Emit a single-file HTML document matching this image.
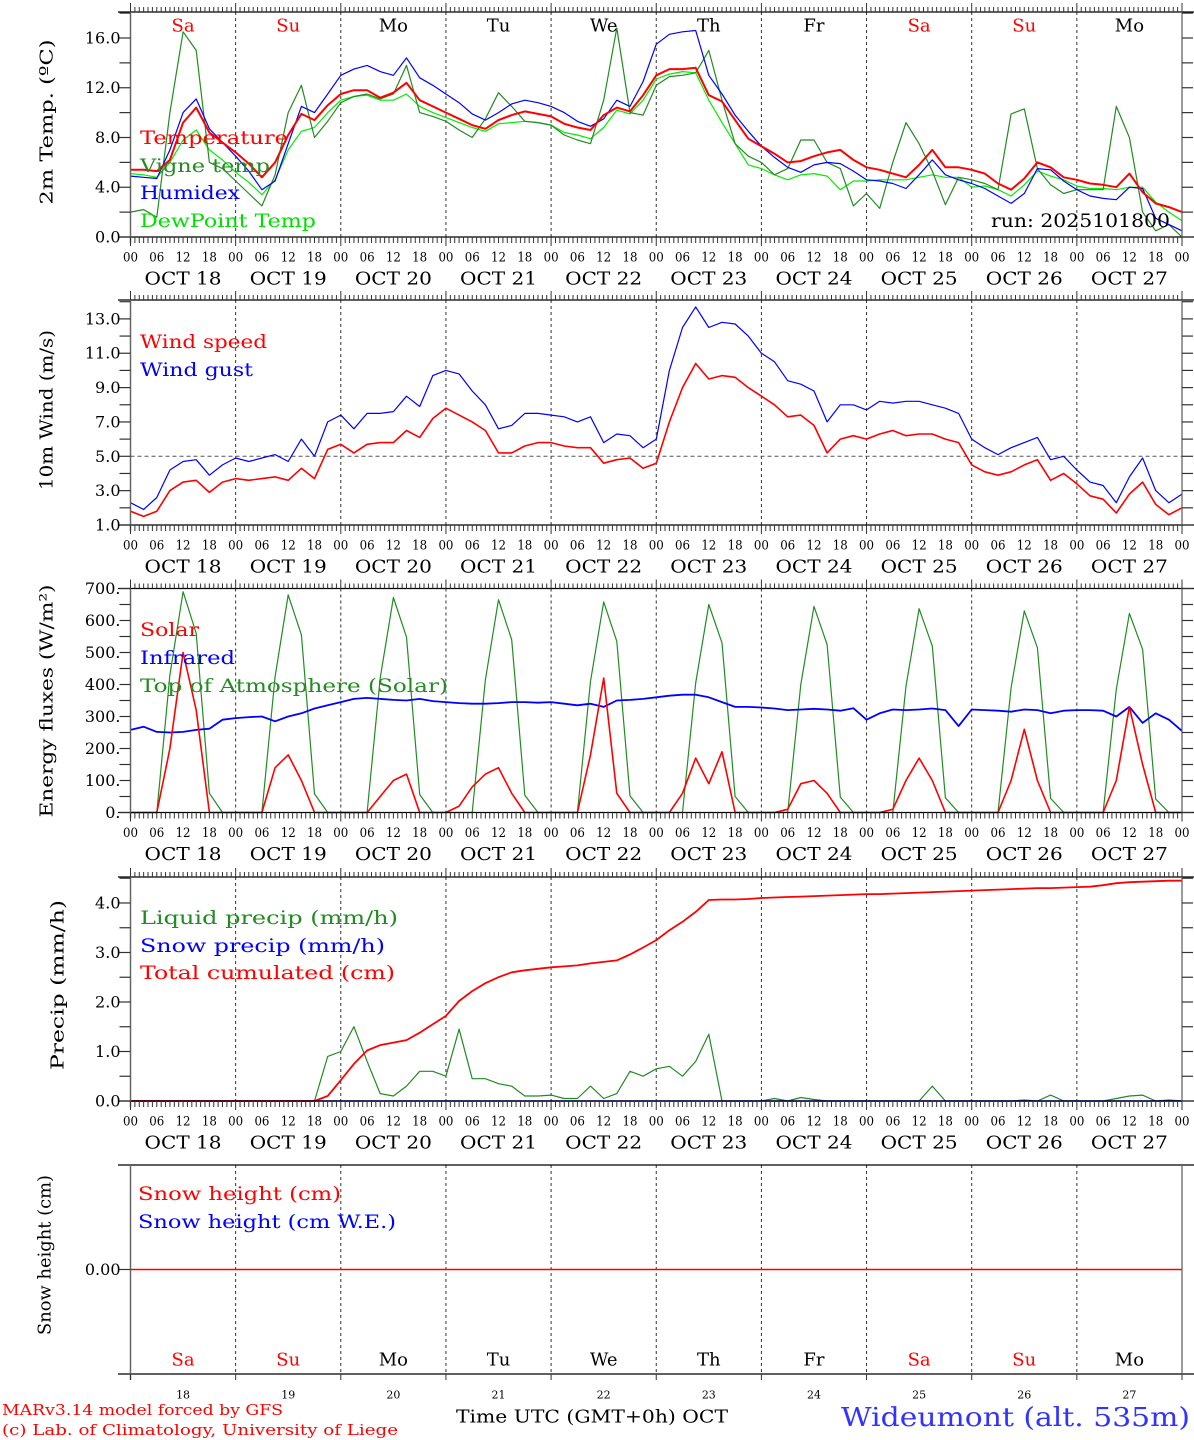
<!DOCTYPE html>
<html><head><meta charset="utf-8"><style>
html,body{margin:0;padding:0;background:#fff;}
svg{display:block;font-family:"DejaVu Serif","Liberation Serif",serif;}
</style></head><body>
<svg id="chart" width="1194" height="1440" viewBox="0 0 1194 1440" xmlns="http://www.w3.org/2000/svg">
<rect x="0" y="0" width="1194" height="1440" fill="#fff"/>
<g id="grid"></g>
<g id="marks"></g>
<g id="axes"></g>
<g font-size="19" dominant-baseline="central">
<text x="140" y="138" fill="#ff0000" textLength="148" lengthAdjust="spacingAndGlyphs">Temperature</text>
<text x="140" y="166" fill="#228b22" textLength="130" lengthAdjust="spacingAndGlyphs">Vigne temp</text>
<text x="140" y="193" fill="#0000ff" textLength="100" lengthAdjust="spacingAndGlyphs">Humidex</text>
<text x="140" y="221" fill="#00e000" textLength="176" lengthAdjust="spacingAndGlyphs">DewPoint Temp</text>
<text x="991" y="221" fill="#000" textLength="179" lengthAdjust="spacingAndGlyphs">run: 2025101800</text>
<text x="140" y="342" fill="#ff0000" textLength="127" lengthAdjust="spacingAndGlyphs">Wind speed</text>
<text x="140" y="370" fill="#0000ff" textLength="113" lengthAdjust="spacingAndGlyphs">Wind gust</text>
<text x="140" y="630" fill="#ff0000" textLength="59" lengthAdjust="spacingAndGlyphs">Solar</text>
<text x="140" y="658" fill="#0000ff" textLength="95" lengthAdjust="spacingAndGlyphs">Infrared</text>
<text x="140" y="686" fill="#228b22" textLength="308" lengthAdjust="spacingAndGlyphs">Top of Atmosphere (Solar)</text>
<text x="140" y="918" fill="#228b22" textLength="258" lengthAdjust="spacingAndGlyphs">Liquid precip (mm/h)</text>
<text x="140" y="946" fill="#0000ff" textLength="245" lengthAdjust="spacingAndGlyphs">Snow precip (mm/h)</text>
<text x="140" y="973" fill="#ff0000" textLength="255" lengthAdjust="spacingAndGlyphs">Total cumulated (cm)</text>
<text x="138" y="1194" fill="#ff0000" textLength="203" lengthAdjust="spacingAndGlyphs">Snow height (cm)</text>
<text x="138" y="1222" fill="#0000ff" textLength="258" lengthAdjust="spacingAndGlyphs">Snow height (cm W.E.)</text>
</g>
<g font-size="18" dominant-baseline="central" text-anchor="middle" fill="#000">
<text transform="translate(47,122) rotate(-90)" textLength="165" lengthAdjust="spacingAndGlyphs">2m Temp. (ºC)</text>
<text transform="translate(47,410) rotate(-90)" textLength="160" lengthAdjust="spacingAndGlyphs">10m Wind (m/s)</text>
<text transform="translate(47,701) rotate(-90)" textLength="233" lengthAdjust="spacingAndGlyphs">Energy fluxes (W/m²)</text>
<text transform="translate(58,985) rotate(-90)" textLength="170" lengthAdjust="spacingAndGlyphs">Precip (mm/h)</text>
<text transform="translate(45,1255) rotate(-90)" textLength="160" lengthAdjust="spacingAndGlyphs">Snow height (cm)</text>
</g>
<text x="2" y="1410" font-size="15" fill="#ff0000" dominant-baseline="central" textLength="281" lengthAdjust="spacingAndGlyphs">MARv3.14 model forced by GFS</text>
<text x="2" y="1430" font-size="15" fill="#ff0000" dominant-baseline="central" textLength="396" lengthAdjust="spacingAndGlyphs">(c) Lab. of Climatology, University of Liege</text>
<text x="456" y="1417" font-size="18" fill="#000" dominant-baseline="central" textLength="272" lengthAdjust="spacingAndGlyphs">Time UTC (GMT+0h) OCT</text>
<text x="841" y="1418" font-size="26" fill="#3333ff" dominant-baseline="central" textLength="349" lengthAdjust="spacingAndGlyphs">Wideumont (alt. 535m)</text>
</svg>
<script>
// ---- data (3-hourly, hours 0..240 from OCT 18 00 UTC) ----
const hours = Array.from({length:81},(_,i)=>i*3);
const dayNames = ["Sa","Su","Mo","Tu","We","Th","Fr","Sa","Su","Mo"];
const dayNums = ["18","19","20","21","22","23","24","25","26","27"];
const hourTicks = ["00","06","12","18"];
const tempTicks = [0,4,8,12,16];
const windTicks = [1,3,5,7,9,11,13];
const energyTicks = [0,100,200,300,400,500,600,700];
const precipTicks = [0,1,2,3,4];
const temperature = [5.4,5.4,5.3,6.2,9.2,10.4,8.4,7.6, 6.8,5.9,4.8,6.0,8.2,9.9,9.4,10.6, 11.5,11.8,11.8,11.2,11.6,12.4,11.0,10.5, 10.0,9.5,9.0,8.7,9.4,9.8,10.1,9.9, 9.7,9.1,8.8,8.6,9.8,10.4,10.1,11.4, 13.0,13.5,13.5,13.6,11.4,10.9,9.4,7.9, 7.3,6.7,6.0,6.1,6.5,6.8,7.0,6.2, 5.6,5.4,5.1,4.8,5.8,7.0,5.6,5.6, 5.4,5.1,4.3,3.8,4.7,6.0,5.6,4.8, 4.6,4.3,4.2,4.0,5.1,3.6,2.7,2.4, 2.0];
const vigne = [2.0,2.2,1.6,10.0,16.5,15.0,6.0,5.5, 4.5,3.5,2.5,5.0,10.0,12.2,8.0,9.3, 10.8,11.3,11.5,11.1,11.5,13.8,10.0,9.7, 9.3,8.6,8.0,9.5,11.6,10.5,9.3,9.2, 9.0,8.2,7.8,7.5,11.0,16.8,10.0,9.8, 12.2,12.9,13.0,13.2,15.0,11.0,7.5,6.5, 6.0,5.0,5.5,7.8,7.8,6.0,5.5,2.5, 3.5,2.3,6.0,9.2,7.5,5.3,2.6,4.8, 4.6,4.3,3.8,9.9,10.3,5.5,4.2,3.5, 3.8,3.8,3.8,10.5,8.0,2.0,0.5,1.0, 0.0];
const humidex = [4.9,4.8,4.7,7.0,10.0,11.1,8.7,7.6, 6.5,5.3,3.8,4.5,7.5,10.5,10.0,11.5, 13.0,13.5,13.8,13.3,13.0,14.4,12.8,12.2, 11.5,10.8,9.9,9.4,10.0,10.7,11.0,10.8, 10.5,10.0,9.3,8.9,9.5,11.0,10.5,12.5, 15.5,16.3,16.5,16.6,13.0,11.5,9.8,8.5, 7.3,6.4,5.6,5.2,5.8,6.0,5.9,5.3, 4.6,4.5,4.3,3.9,5.0,6.2,5.0,4.6, 4.3,3.9,3.3,2.7,3.5,5.5,5.4,4.5, 3.8,3.3,3.1,3.0,4.0,3.9,1.5,1.0, 0.5];
const dewpoint = [5.1,5.0,4.8,6.0,7.8,8.6,7.0,6.2, 5.2,4.4,3.4,4.6,7.0,8.5,8.8,10.0, 11.0,11.3,11.4,11.0,11.0,11.5,10.5,10.0, 9.6,9.2,8.8,8.5,9.1,9.2,9.3,9.2, 9.0,8.4,8.2,7.9,8.8,10.2,9.9,11.0, 12.7,13.1,13.3,13.2,11.0,9.2,7.5,5.8, 5.5,5.0,4.6,5.0,5.1,4.9,3.8,4.5, 4.5,4.6,4.6,4.6,4.8,5.0,4.8,4.8, 4.0,4.1,3.8,3.3,4.2,5.3,4.9,4.6, 4.1,3.9,3.9,3.8,4.0,4.0,2.8,2.0, 1.3];
const windSpeed = [1.8,1.5,1.8,3.0,3.5,3.6,2.9,3.5, 3.7,3.6,3.7,3.8,3.6,4.3,3.7,5.4, 5.7,5.2,5.7,5.8,5.8,6.5,6.1,7.2, 7.8,7.4,7.0,6.5,5.2,5.2,5.6,5.8, 5.8,5.6,5.5,5.5,4.6,4.8,4.9,4.3, 4.6,7.0,9.0,10.4,9.5,9.7,9.6,9.0, 8.5,8.0,7.3,7.4,6.8,5.2,6.0,6.2, 6.0,6.3,6.5,6.2,6.3,6.3,6.0,5.8, 4.5,4.1,3.9,4.1,4.5,4.8,3.6,4.0, 3.4,2.7,2.5,1.7,2.8,3.5,2.2,1.6, 2.0];
const windGust = [2.3,1.9,2.6,4.2,4.7,4.8,3.9,4.5, 4.9,4.7,4.9,5.1,4.7,6.0,5.0,7.0, 7.4,6.6,7.5,7.5,7.6,8.5,7.9,9.7, 10.0,9.8,8.8,8.0,6.6,6.8,7.5,7.5, 7.4,7.3,7.0,7.3,5.8,6.3,6.2,5.5, 6.0,10.0,12.5,13.7,12.5,12.8,12.7,12.0, 11.0,10.5,9.4,9.2,8.8,7.0,8.0,8.0, 7.7,8.2,8.1,8.2,8.2,8.0,7.8,7.5, 6.0,5.5,5.1,5.5,5.8,6.1,4.8,5.0, 4.2,3.5,3.3,2.3,3.8,4.9,3.0,2.3, 2.8];
const solar = [0,0,0,200,500,320,0,0, 0,0,0,140,180,100,0,0, 0,0,0,50,100,120,0,0, 0,20,80,120,140,60,0,0, 0,0,0,180,420,60,0,0, 0,0,60,170,90,190,0,0, 0,0,10,90,100,60,0,0, 0,0,10,100,170,100,0,0, 0,0,0,100,260,100,0,0, 0,0,0,100,330,150,0,0, 0];
const infrared = [258,268,252,250,252,258,262,290, 295,298,300,285,300,310,325,335, 345,355,358,355,352,350,355,348, 345,342,340,340,342,345,345,343, 345,340,335,340,330,350,352,355, 360,365,368,368,360,345,330,330, 328,325,320,322,324,322,318,326, 290,310,322,320,322,325,320,270, 322,320,318,315,322,320,310,318, 320,320,318,300,330,280,310,290, 255];
const toa = [0,0,0,430,690,560,60,0, 0,0,0,425,680,555,58,0, 0,0,0,420,672,548,56,0, 0,0,0,415,665,540,54,0, 0,0,0,410,658,535,52,0, 0,0,0,405,650,530,50,0, 0,0,0,400,644,525,48,0, 0,0,0,395,637,520,46,0, 0,0,0,390,630,515,44,0, 0,0,0,385,622,510,42,0, 0];
const liquid = [0,0,0,0,0,0,0,0, 0,0,0,0,0,0,0,0.9, 1.0,1.5,0.8,0.15,0.1,0.3,0.6,0.6, 0.5,1.45,0.45,0.45,0.35,0.3,0.1,0.1, 0.12,0.05,0.05,0.3,0.05,0.15,0.6,0.5, 0.65,0.7,0.5,0.8,1.35,0,0,0, 0,0.05,0,0.07,0.03,0,0,0, 0,0,0,0,0,0.3,0,0, 0,0,0,0,0.02,0,0.12,0, 0,0,0,0.05,0.1,0.12,0,0.02, 0];
const snowPrecip = [0,0,0,0,0,0,0,0, 0,0,0,0,0,0,0,0, 0,0,0,0,0,0,0,0, 0,0,0,0,0,0,0,0, 0,0,0,0,0,0,0,0, 0,0,0,0,0,0,0,0, 0,0,0,0,0,0,0,0, 0,0,0,0,0,0,0,0, 0,0,0,0,0,0,0,0, 0,0,0,0,0,0,0,0, 0];
const cumulated = [0,0,0,0,0,0,0,0, 0,0,0,0,0,0,0,0.1, 0.42,0.75,1.02,1.13,1.18,1.23,1.38,1.55, 1.72,2.02,2.22,2.38,2.5,2.6,2.64,2.67, 2.7,2.72,2.74,2.78,2.81,2.84,2.96,3.1, 3.25,3.45,3.62,3.82,4.06,4.07,4.07,4.08, 4.1,4.11,4.12,4.13,4.14,4.15,4.16,4.17, 4.18,4.18,4.19,4.2,4.21,4.22,4.23,4.24, 4.25,4.26,4.27,4.28,4.29,4.3,4.3,4.31, 4.32,4.33,4.36,4.4,4.42,4.43,4.44,4.45, 4.45];
const snowHeight = [0,0,0,0,0,0,0,0,0,0,0];
const snowHours = [0,24,48,72,96,120,144,168,192,216,240];

// ---- layout ----
const NS="http://www.w3.org/2000/svg";
const X0=130.5, X1=1182;
function X(h){return X0+(X1-X0)*h/240;}
const panels=[
 {top:12,bottom:237,min:0,max:18.09},
 {top:300,bottom:525,min:1,max:14.1},
 {top:588.5,bottom:812.5,min:0,max:700},
 {top:877,bottom:1101,min:0,max:4.525},
 {top:1165,bottom:1374,min:-1,max:1}
];
function Y(p,v){const P=panels[p];return P.bottom-(v-P.min)/(P.max-P.min)*(P.bottom-P.top);}
function mk(tag,attrs,parent){const e=document.createElementNS(NS,tag);for(const k in attrs)e.setAttribute(k,attrs[k]);parent.appendChild(e);return e;}
const grid=document.getElementById('grid'), marks=document.getElementById('marks'), axes=document.getElementById('axes');

panels.forEach((P,pi)=>{
  const hl1=mk('line',{x1:118,x2:1194,y1:P.top,y2:P.top,stroke:'#000','stroke-width':1.3},axes);
  
  
  const hl2=mk('line',{x1:118,x2:1194,y1:P.bottom,y2:P.bottom,stroke:'#000','stroke-width':1.3},axes);
  
  
  const vl=mk('line',{x1:X0,x2:X0,y1:P.top,y2:P.bottom+6,stroke:'#666','stroke-width':1.5},axes);
  
  
  const vr=mk('line',{x1:X1,x2:X1,y1:P.top,y2:P.bottom,stroke:'#666','stroke-width':1.3},axes);
  
  
  for(let d=1;d<10;d++){
    const dl=mk('line',{x1:X(d*24),x2:X(d*24),y1:P.top,y2:P.bottom,stroke:'#333','stroke-width':1,'stroke-dasharray':'3,3'},grid);
    
    
  }
  if(pi<4){
    for(let h=0;h<=240;h++){
      const big=(h%24===0);
      const t1=mk('line',{x1:X(h),x2:X(h),y1:P.top,y2:P.top-(big?9:5),stroke:'#333','stroke-width':1},axes);
      
      
      const t2=mk('line',{x1:X(h),x2:X(h),y1:P.bottom,y2:P.bottom+(big?9:6),stroke:'#333','stroke-width':1},axes);
      
      
    }
    for(let d=0;d<10;d++){
      hourTicks.forEach((lab,i)=>{
        const t=mk('text',{x:X(d*24+i*6),y:P.bottom+21,'font-size':13,'text-anchor':'middle','dominant-baseline':'central',textLength:15,lengthAdjust:'spacingAndGlyphs'},axes);
        t.textContent=lab;
        
        
      });
      const ot=mk('text',{x:X(d*24+12),y:P.bottom+42,'font-size':18,'text-anchor':'middle','dominant-baseline':'central',textLength:77,lengthAdjust:'spacingAndGlyphs'},axes);
      ot.textContent='OCT '+dayNums[d];
      
      
    }
    const et=mk('text',{x:X(240),y:P.bottom+21,'font-size':13,'text-anchor':'middle','dominant-baseline':'central',textLength:15,lengthAdjust:'spacingAndGlyphs'},axes);
    et.textContent='00';
    
    
  }
});

function yTicks(pi,major,minorStep,fmt){
  const P=panels[pi];
  for(let v=P.min;v<=P.max+1e-9;v+=minorStep){
    const y=Y(pi,v);
    const a=mk('line',{x1:X0-11,x2:X0,y1:y,y2:y,stroke:'#333','stroke-width':1.2},axes);
    
    
    const b=mk('line',{x1:X1,x2:X1+11,y1:y,y2:y,stroke:'#333','stroke-width':1.2},axes);
    
    
  }
  major.forEach(v=>{
    const t=mk('text',{x:X0-10,y:Y(pi,v),'font-size':16,'text-anchor':'end','dominant-baseline':'central'},axes);
    t.textContent=fmt(v);
    
    
  });
}
yTicks(0,tempTicks,2,v=>v.toFixed(1));
yTicks(1,windTicks,1,v=>v.toFixed(1));
yTicks(2,energyTicks,50,v=>v+'.');
yTicks(3,precipTicks,0.5,v=>v.toFixed(1));
{
  const y=Y(4,0);
  const a=mk('line',{x1:X0-11,x2:X0,y1:y,y2:y,stroke:'#333','stroke-width':1.2},axes);
  
  
  const t=mk('text',{x:X0-10,y:y,'font-size':16,'text-anchor':'end','dominant-baseline':'central'},axes);
  t.textContent='0.00';
  
  
  for(let d=0;d<=10;d++){
    const tk=mk('line',{x1:X(d*24),x2:X(d*24),y1:panels[4].bottom,y2:panels[4].bottom+6,stroke:'#333','stroke-width':1},axes);
    
    
  }
}
{
  const y=Y(1,5);
  const rl=mk('line',{x1:X0,x2:X1,y1:y,y2:y,stroke:'#555','stroke-width':1,'stroke-dasharray':'4,3'},grid);
  
  
}
dayNames.forEach((n,d)=>{
  const col=(n==='Sa'||n==='Su')?'#ff0000':'#000';
  const t1=mk('text',{x:X(d*24+12),y:26,'font-size':18,fill:col,'text-anchor':'middle','dominant-baseline':'central'},axes);
  t1.textContent=n;
  
  
  const t2=mk('text',{x:X(d*24+12),y:1360,'font-size':18,fill:col,'text-anchor':'middle','dominant-baseline':'central'},axes);
  t2.textContent=n;
  
  
  const t3=mk('text',{x:X(d*24+12),y:1395,'font-size':11,fill:'#000','text-anchor':'middle','dominant-baseline':'central'},axes);
  t3.textContent=dayNums[d];
  
  
});

function series(pi,xs,vals,color,w){
  const pts=vals.map((v,i)=>X(xs[i]).toFixed(1)+','+Y(pi,v).toFixed(1)).join(' ');
  return mk('polyline',{points:pts,fill:'none',stroke:color,'stroke-width':w,'stroke-linejoin':'round'},marks);
}
let s;
s=series(0,hours,dewpoint,'#00ee00',1.2);


s=series(0,hours,vigne,'#228b22',1.2);


s=series(0,hours,humidex,'#0000ff',1.2);


s=series(0,hours,temperature,'#ff0000',2);


s=series(1,hours,windGust,'#0000ff',1.2);


s=series(1,hours,windSpeed,'#ff0000',1.6);


s=series(2,hours,toa,'#228b22',1.2);


s=series(2,hours,infrared,'#0000ff',1.8);


s=series(2,hours,solar,'#ff0000',1.6);


s=series(3,hours,liquid,'#228b22',1.2);


s=series(3,hours,snowPrecip,'#0000ff',1.5);


s=series(3,hours,cumulated,'#ff0000',1.8);


s=series(4,snowHours,snowHeight,'#ff0000',1.6);


</script>
</body></html>
